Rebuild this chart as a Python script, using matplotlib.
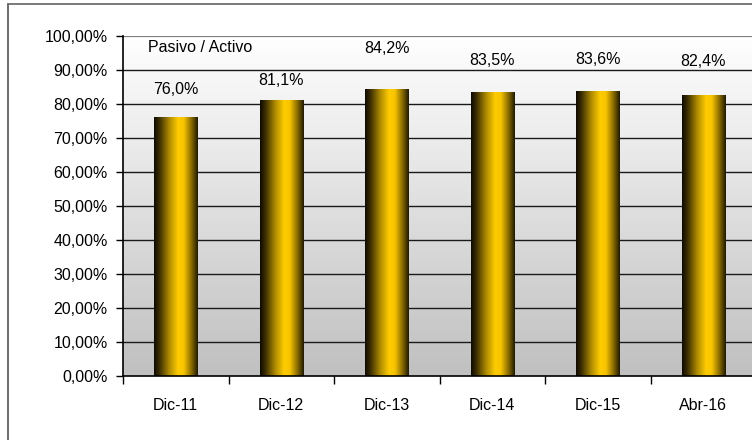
import numpy as np
import matplotlib
matplotlib.use("Agg")
import matplotlib.pyplot as plt
from matplotlib.colors import LinearSegmentedColormap
from matplotlib.lines import Line2D

plt.rcParams['font.family'] = ['Liberation Sans', 'DejaVu Sans']

# Data
categories = ["Dic-11", "Dic-12", "Dic-13", "Dic-14", "Dic-15", "Abr-16"]
ratio_pct = [76.0, 81.1, 84.2, 83.5, 83.6, 82.4]
value_labels = ["76,0%", "81,1%", "84,2%", "83,5%", "83,6%", "82,4%"]
y_ticks = [0, 10, 20, 30, 40, 50, 60, 70, 80, 90, 100]
y_tick_labels = ["0,00%", "10,00%", "20,00%", "30,00%", "40,00%", "50,00%",
                 "60,00%", "70,00%", "80,00%", "90,00%", "100,00%"]
series_name = "Pasivo / Activo"

# label vertical offsets above bar tops (points)
label_offsets = [20.5, 14.5, 30.0, 23.0, 23.0, 25.0]

fig = plt.figure(figsize=(7.52, 4.40), dpi=100)
fig.patch.set_facecolor("white")

ax = fig.add_axes([123 / 752, 64 / 440, 633 / 752, 340 / 440])
x = np.arange(len(categories))
ax.set_xlim(-0.5, len(categories) - 0.5)
ax.set_ylim(0, 100)

# plot-area background: white at top fading to grey at bottom
bg_cmap = LinearSegmentedColormap.from_list("bg", ["#c0c0c0", "#ffffff"])
grad = np.linspace(0, 1, 256).reshape(-1, 1)
ax.imshow(grad, cmap=bg_cmap, aspect="auto", origin="lower",
          extent=[0, 1, 0, 1], transform=ax.transAxes, zorder=0)

# gridlines
for t in y_ticks[1:-1]:
    ax.axhline(t, color="#1a1a1a", lw=1.0, zorder=1)
ax.axhline(100, color="#808080", lw=1.6, zorder=1)

# bars with a cylindrical gold shading
bar_cmap = LinearSegmentedColormap.from_list(
    "gold", [(0.0, "#0d0a00"), (0.12, "#3a2d00"), (0.35, "#b08c00"),
             (0.55, "#ffcc00"), (0.68, "#f7c400"), (0.85, "#8a6d00"),
             (1.0, "#1e1800")])
bars = ax.bar(x, ratio_pct, width=0.41, color="none", edgecolor="none", zorder=2)
shade = np.linspace(0, 1, 256).reshape(1, -1)
for b in bars:
    x0, y0 = b.get_x(), b.get_y()
    w, h = b.get_width(), b.get_height()
    ax.imshow(shade, cmap=bar_cmap, aspect="auto", origin="lower",
              extent=[x0, x0 + w, y0, y0 + h], zorder=3)

# value labels
for xi, v, lab, off in zip(x, ratio_pct, value_labels, label_offsets):
    ax.annotate(lab, (xi, v), xytext=(0, off), textcoords="offset points",
                ha="center", va="center", fontsize=11.5, color="black", zorder=5)

ax.text(0.0395, 0.965, series_name, transform=ax.transAxes, ha="left",
        va="center", fontsize=11.5, color="black", zorder=5)

# axes styling
for side in ["top", "right"]:
    ax.spines[side].set_visible(False)
ax.spines["left"].set_color("black")
ax.spines["bottom"].set_color("black")
ax.spines["left"].set_linewidth(1.2)
ax.spines["bottom"].set_linewidth(1.2)
ax.spines["left"].set_zorder(4)
ax.spines["bottom"].set_zorder(4)

ax.set_yticks(y_ticks)
ax.set_yticklabels(y_tick_labels, fontsize=11.5)
ax.tick_params(axis="y", direction="out", length=5, width=1, pad=6)

ax.set_xticks(x)
ax.set_xticklabels(categories, fontsize=11.5)
ax.set_xticks(np.arange(-0.5, len(categories)), minor=True)
ax.tick_params(axis="x", which="major", length=0, pad=16)
ax.tick_params(axis="x", which="minor", direction="out", length=6, width=1)

# outer chart frame
fig.add_artist(Line2D([8 / 752, 8 / 752], [0, 436 / 440],
                      transform=fig.transFigure, color="#606060", lw=1.3))
fig.add_artist(Line2D([8 / 752, 1], [436 / 440, 436 / 440],
                      transform=fig.transFigure, color="#707070", lw=1.3))

fig.savefig("out.png", dpi=100, facecolor="white")
